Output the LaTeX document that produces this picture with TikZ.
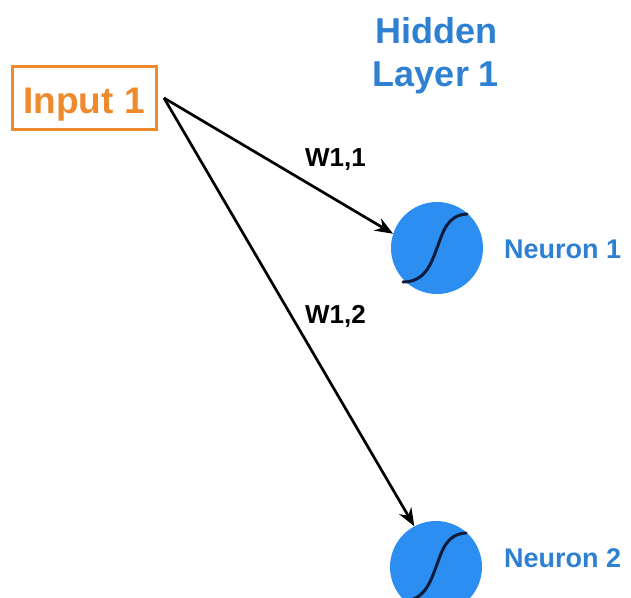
\documentclass[tikz,border=0pt]{standalone}
\usepackage{fontspec}
\setmainfont{Liberation Sans}
\usetikzlibrary{arrows.meta}
\definecolor{inorange}{HTML}{EE8A2C}
\definecolor{neuronblue}{HTML}{2B8EF0}
\definecolor{labelblue}{HTML}{2E80D2}
\definecolor{sigmoid}{HTML}{0E1B3C}
\tikzset{
  inputbox/.style={draw=inorange, line width=3pt, text=inorange, inner sep=0pt,
    minimum width=144pt, minimum height=63pt, text height=31pt, text depth=0pt,
    font=\fontsize{37}{40}\selectfont\bfseries},
  neuron/.style={circle, fill=neuronblue, inner sep=0pt, minimum size=92pt},
  neuronlabel/.style={text=labelblue, inner sep=0pt, anchor=base west,
    font=\fontsize{27}{30}\selectfont\bfseries},
  layerlabel/.style={text=labelblue, inner sep=0pt, align=center,
    font=\fontsize{36}{43}\selectfont\bfseries},
  weight/.style={text=black, inner sep=0pt, anchor=base west,
    font=\fontsize{26}{30}\selectfont\bfseries},
  link/.style={line width=2.7pt, -{Stealth[length=18pt, width=14pt]}},
  sig/.style={draw=sigmoid, line width=3pt, line cap=round},
}
\begin{document}
\begin{tikzpicture}[x=1pt, y=-1pt]
  \useasboundingbox (0,0) rectangle (631,597);

  % input and hidden layer
  \node[inputbox] (in) at (84,97.5) {Input 1};
  \node[layerlabel, anchor=north] (layer) at (436,17) {Hidden\\Layer 1};

  \node[neuron] (n1) at (437,248) {};
  \node[neuron] (n2) at (436,567) {};

  % sigmoid curves inside the neurons
  \foreach \n in {n1,n2}{
    \draw[sig] ([shift={(-34,34)}]\n.center)
      .. controls ([shift={(-12,34)}]\n.center) and ([shift={(-6,16)}]\n.center)
      .. ([shift={(0,0)}]\n.center)
      .. controls ([shift={(6,-16)}]\n.center) and ([shift={(10,-33)}]\n.center)
      .. ([shift={(30,-34)}]\n.center);
  }

  % neuron labels
  \node[neuronlabel] (l1) at (504,258) {Neuron 1};
  \node[neuronlabel] (l2) at (504,567) {Neuron 2};

  % weighted connections
  \coordinate (src) at (164,98);
  \draw[link] (src) -- (n1.162);
  \draw[link] (src) -- (n2.118);
  \node[weight] (w11) at (305,166) {W1,1};
  \node[weight] (w12) at (305,323) {W1,2};
\end{tikzpicture}
\end{document}
